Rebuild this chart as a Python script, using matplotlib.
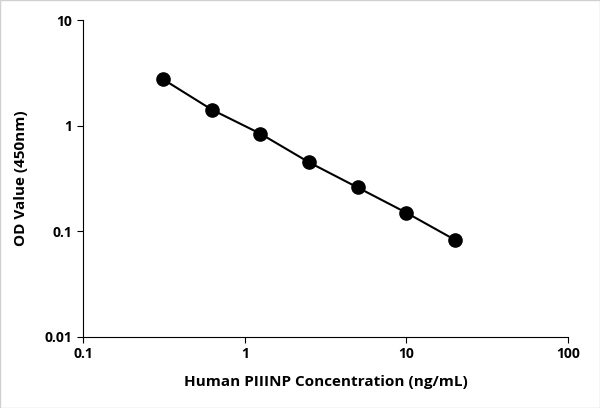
import matplotlib
matplotlib.use('Agg')
import matplotlib.pyplot as plt
from matplotlib.ticker import FixedLocator, FixedFormatter, NullLocator

conc = [0.3125, 0.625, 1.25, 2.5, 5, 10, 20]
od = [2.75, 1.42, 0.84, 0.45, 0.26, 0.15, 0.083]
x_ticks = [0.1, 1, 10, 100]
x_labels = ['0.1', '1', '10', '100']
y_ticks = [0.01, 0.1, 1, 10]
y_labels = ['0.01', '0.1', '1', '10']

plt.rcParams['font.family'] = 'Open Sans'
plt.rcParams['font.weight'] = 'bold'

fig = plt.figure(figsize=(6, 4.08), dpi=100)
ax = fig.add_axes([83 / 600, 1 - 337 / 408, 485 / 600, 317 / 408])
ax.plot(conc, od, color='black', lw=1.5, marker='o', ms=9.5)
ax.set_xscale('log')
ax.set_yscale('log')
ax.set_xlim(0.1, 100)
ax.set_ylim(0.01, 10)
ax.xaxis.set_major_locator(FixedLocator(x_ticks))
ax.xaxis.set_major_formatter(FixedFormatter(x_labels))
ax.yaxis.set_major_locator(FixedLocator(y_ticks))
ax.yaxis.set_major_formatter(FixedFormatter(y_labels))
ax.xaxis.set_minor_locator(NullLocator())
ax.yaxis.set_minor_locator(NullLocator())
ax.tick_params(labelsize=10, direction='out', length=4)
for lab in ax.get_xticklabels() + ax.get_yticklabels():
    lab.set_fontweight('bold')
ax.spines['top'].set_visible(False)
ax.spines['right'].set_visible(False)
ax.set_xlabel('Human PIIINP Concentration (ng/mL)', fontsize=11, fontweight='bold', labelpad=10)
ax.set_ylabel('OD Value (450nm)', fontsize=11, fontweight='bold', labelpad=12)

fig.patches.append(plt.Rectangle((0, 0), 1, 1, transform=fig.transFigure,
                                 fill=False, edgecolor='#d0d0d0', lw=1))
plt.savefig('out.png')
plt.close()
